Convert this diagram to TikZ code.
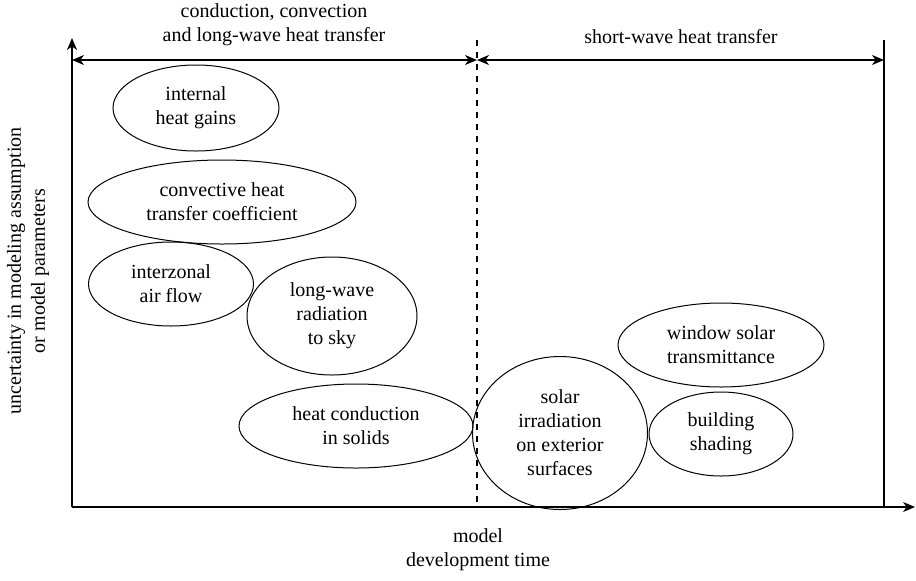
\documentclass[tikz,border=0pt]{standalone}
\usepackage{fontspec}
\setmainfont{Liberation Serif}
\usetikzlibrary{shapes.geometric,arrows.meta}

\begin{document}
\begin{tikzpicture}[x=0.5pt, y=-0.5pt, line width=0.6pt,
  every node/.style = {align=center, inner sep=0pt},
  >={Stealth[length=6pt,width=5pt,inset=1.8pt]}]
    \tikzstyle{factor}=[ellipse, draw, line width=0.5pt, minimum height=42pt]
  \useasboundingbox (0,0) rectangle (916,580);
  % axes and band limits
  \coordinate (o) at (72,507);
  \coordinate (ymax) at (72,38);
  \coordinate (xmax) at (915,507);
  \coordinate (splitT) at (477,40);
  \coordinate (splitB) at (477,507);
  \coordinate (endT) at (884,40);
  \coordinate (endB) at (884,507);
  \coordinate (aL) at (72,60);
  \coordinate (aM) at (477,60);
  \coordinate (aR) at (884,60);
  \draw[->] (o) -- (ymax);
  \draw[->] (o) -- (xmax);
  \draw[dashed] (splitT) -- (splitB);
  \draw (endT) -- (endB);
  \draw[<->] (aL) -- (aM);
  \draw[<->] (aM) -- (aR);
  % labels
  \node (band1) at (274,25) {conduction, convection\\and long-wave heat transfer};
  \node (band2) at (681,37) {short-wave heat transfer};
  \node (xlabel) at (478,550) {model\\development time};
  \node[rotate=90] (ylabel) at (28,271) {uncertainty in modeling assumption\\or model parameters};
  % modelling aspects
  \node[factor, minimum width=83pt, minimum height=43pt] (gains) at (196,108) {internal\\heat gains};
  \node[factor, minimum width=134pt] (convect) at (222,202) {convective heat\\transfer coefficient};
  \node[factor, minimum width=82.5pt] (airflow) at (171,284) {interzonal\\air flow};
  \node[factor, minimum width=85pt, minimum height=59pt] (sky) at (332,316) {long-wave\\radiation\\to sky};
  \node[factor, minimum width=117pt] (solids) at (356,426) {heat conduction\\in solids};
  \node[factor, minimum width=87.5pt, minimum height=76.5pt] (solar) at (560,433) {solar\\irradiation\\on exterior\\surfaces};
  \node[factor, minimum width=103pt] (window) at (721,345) {window solar\\transmittance};
  \node[factor, minimum width=72pt] (shading) at (721,434) {building\\shading};
\end{tikzpicture}
\end{document}
